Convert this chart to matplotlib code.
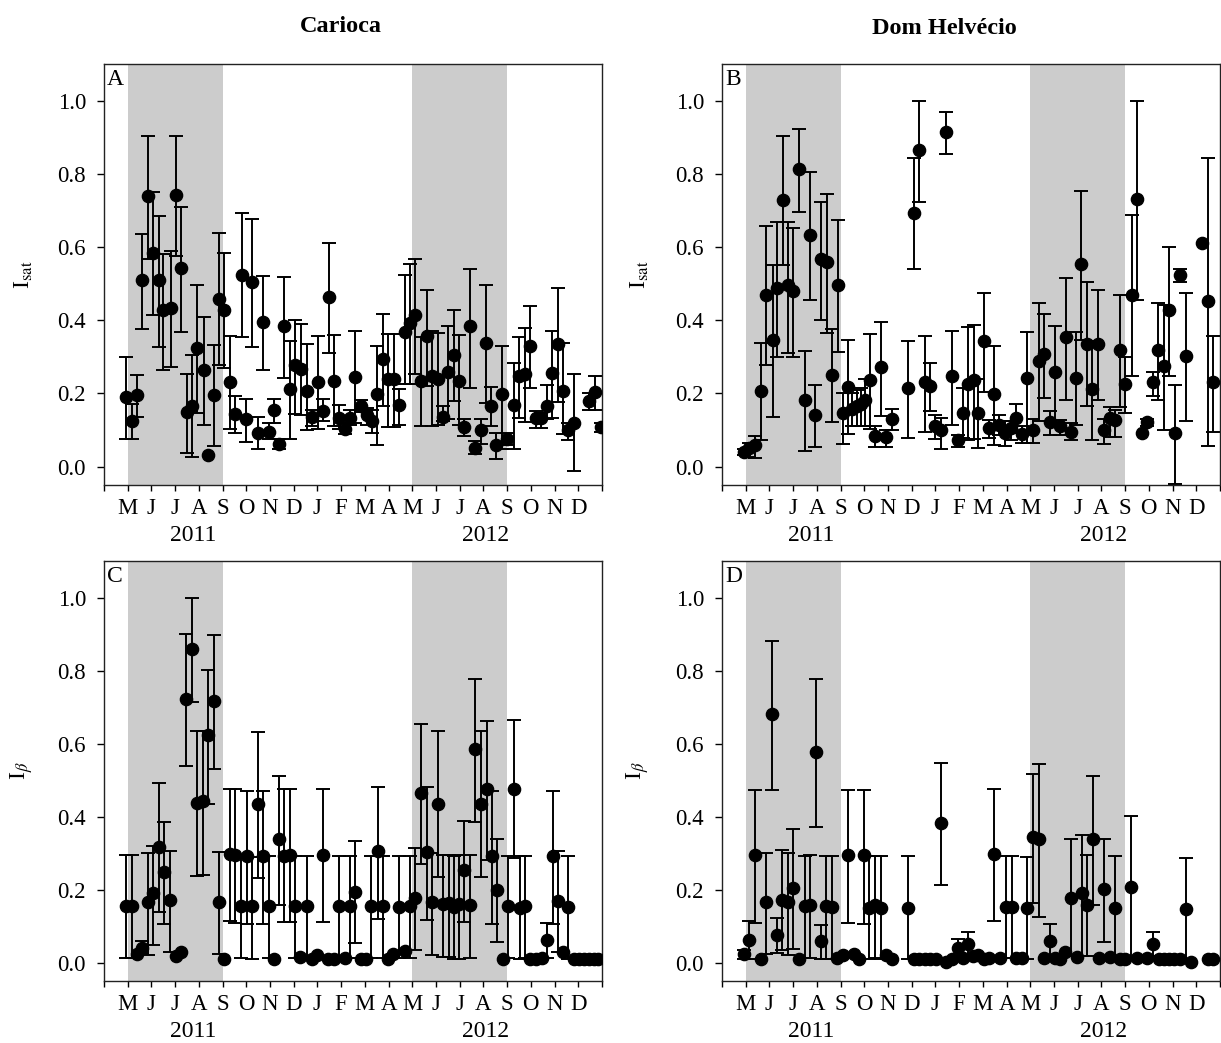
import matplotlib
matplotlib.use('Agg')
import matplotlib.pyplot as plt
import matplotlib.transforms as mtransforms
import numpy as np

plt.rcParams['font.family'] = ['Liberation Serif', 'DejaVu Serif']
plt.rcParams['mathtext.fontset'] = 'stix'

# x positions are months counted from 1 April 2011 (1 = May 2011, 13 = May 2012)
month_labels = ['M', 'J', 'J', 'A', 'S', 'O', 'N', 'D', 'J', 'F',
                'M', 'A', 'M', 'J', 'J', 'A', 'S', 'O', 'N', 'D']
years = ['2011', '2012']
year_pos = [3.75, 16.1]
dry_seasons = [(1, 5), (13, 17)]

# Panel A - Carioca, I_sat
a_x = [0.92, 1.17, 1.38, 1.62, 1.87, 2.08, 2.32, 2.50, 2.82, 3.03, 3.24, 3.49, 3.73, 3.94, 4.20,
       4.37, 4.65, 4.86, 5.07, 5.32, 5.54, 5.82, 6.00, 6.24, 6.48, 6.70, 6.94, 7.15, 7.39, 7.60,
       7.86, 8.07, 8.32, 8.54, 8.77, 9.01, 9.24, 9.48, 9.69, 9.90, 10.15, 10.39, 10.60, 10.84,
       11.07, 11.30, 11.52, 11.76, 11.97, 12.22, 12.44, 12.68, 12.90, 13.10, 13.38, 13.60, 13.84,
       14.08, 14.31, 14.52, 14.76, 14.97, 15.20, 15.43, 15.65, 15.89, 16.10, 16.33, 16.55, 16.80,
       17.00, 17.29, 17.50, 17.74, 17.97, 18.20, 18.44, 18.66, 18.90, 19.13, 19.37, 19.58, 19.80,
       20.47, 20.72, 20.96]
a_y = [0.190, 0.126, 0.197, 0.509, 0.740, 0.585, 0.509, 0.427, 0.434, 0.743, 0.543, 0.150, 0.165,
       0.325, 0.264, 0.031, 0.197, 0.459, 0.429, 0.231, 0.145, 0.524, 0.129, 0.505, 0.093, 0.395,
       0.095, 0.156, 0.061, 0.384, 0.211, 0.279, 0.268, 0.206, 0.136, 0.231, 0.152, 0.464, 0.234,
       0.132, 0.104, 0.134, 0.245, 0.167, 0.140, 0.126, 0.199, 0.295, 0.240, 0.240, 0.168, 0.367,
       0.393, 0.414, 0.234, 0.356, 0.247, 0.240, 0.135, 0.260, 0.306, 0.234, 0.109, 0.384, 0.052,
       0.100, 0.338, 0.167, 0.058, 0.199, 0.076, 0.168, 0.247, 0.253, 0.329, 0.132, 0.134, 0.167,
       0.255, 0.336, 0.208, 0.100, 0.120, 0.179, 0.204, 0.108]
a_lo = [0.076, 0.076, 0.135, 0.377, 0.568, 0.415, 0.327, 0.265, 0.273, 0.576, 0.368, 0.038, 0.026,
        0.147, 0.115, 0.031, 0.056, 0.277, 0.270, 0.102, 0.093, 0.354, 0.068, 0.327, 0.047, 0.263,
        0.075, 0.120, 0.049, 0.241, 0.075, 0.145, 0.140, 0.099, 0.111, 0.102, 0.124, 0.311, 0.111,
        0.102, 0.088, 0.113, 0.120, 0.150, 0.115, 0.091, 0.059, 0.165, 0.109, 0.109, 0.115, 0.225,
        0.225, 0.252, 0.111, 0.220, 0.111, 0.113, 0.125, 0.129, 0.179, 0.115, 0.084, 0.215, 0.034,
        0.061, 0.175, 0.111, 0.022, 0.049, 0.058, 0.047, 0.134, 0.122, 0.215, 0.105, 0.105, 0.131,
        0.134, 0.176, 0.090, 0.074, -0.012, 0.156, 0.156, 0.094]
a_hi = [0.299, 0.170, 0.250, 0.635, 0.904, 0.749, 0.685, 0.580, 0.588, 0.904, 0.710, 0.254, 0.305,
        0.495, 0.410, 0.031, 0.332, 0.638, 0.584, 0.358, 0.193, 0.693, 0.185, 0.676, 0.136, 0.522,
        0.120, 0.185, 0.075, 0.518, 0.343, 0.402, 0.390, 0.334, 0.155, 0.358, 0.185, 0.611, 0.359,
        0.168, 0.120, 0.155, 0.370, 0.182, 0.160, 0.156, 0.330, 0.418, 0.363, 0.363, 0.211, 0.525,
        0.555, 0.567, 0.355, 0.484, 0.370, 0.366, 0.165, 0.384, 0.427, 0.361, 0.129, 0.541, 0.070,
        0.129, 0.495, 0.218, 0.093, 0.330, 0.093, 0.282, 0.355, 0.378, 0.438, 0.151, 0.147, 0.222,
        0.370, 0.489, 0.338, 0.120, 0.252, 0.200, 0.247, 0.120]

# Panel B - Dom Helvecio, I_sat
b_x = [0.94, 1.14, 1.39, 1.63, 1.86, 2.13, 2.31, 2.56, 2.77, 3.01, 3.25, 3.48, 3.72, 3.93, 4.18,
       4.42, 4.63, 4.89, 5.10, 5.31, 5.50, 5.68, 5.85, 6.02, 6.23, 6.46, 6.70, 6.93, 7.17, 7.85,
       8.08, 8.32, 8.55, 8.79, 9.00, 9.25, 9.46, 9.70, 9.94, 10.17, 10.37, 10.62, 10.79, 11.04,
       11.25, 11.49, 11.70, 11.94, 12.20, 12.41, 12.65, 12.87, 13.11, 13.35, 13.58, 13.82, 14.03,
       14.27, 14.49, 14.70, 14.94, 15.15, 15.39, 15.62, 15.86, 16.11, 16.35, 16.56, 16.77, 17.01,
       17.27, 17.48, 17.69, 17.93, 18.18, 18.39, 18.63, 18.86, 19.10, 19.31, 19.55, 20.23, 20.48,
       20.72]
b_y = [0.041, 0.050, 0.058, 0.208, 0.470, 0.345, 0.489, 0.729, 0.495, 0.481, 0.813, 0.183, 0.632,
       0.140, 0.566, 0.560, 0.251, 0.495, 0.146, 0.219, 0.157, 0.165, 0.172, 0.183, 0.236, 0.084,
       0.271, 0.080, 0.131, 0.215, 0.694, 0.866, 0.230, 0.221, 0.112, 0.101, 0.915, 0.247, 0.073,
       0.148, 0.226, 0.236, 0.148, 0.342, 0.105, 0.198, 0.114, 0.093, 0.105, 0.132, 0.090, 0.242,
       0.100, 0.289, 0.308, 0.123, 0.258, 0.110, 0.353, 0.096, 0.242, 0.554, 0.336, 0.212, 0.336,
       0.100, 0.132, 0.128, 0.318, 0.226, 0.470, 0.731, 0.091, 0.121, 0.230, 0.318, 0.276, 0.427,
       0.091, 0.525, 0.303, 0.612, 0.452, 0.230]
b_lo = [0.032, 0.027, 0.023, 0.073, 0.279, 0.135, 0.301, 0.550, 0.310, 0.301, 0.697, 0.044, 0.455,
        0.053, 0.400, 0.365, 0.121, 0.312, 0.062, 0.089, 0.110, 0.110, 0.110, 0.110, 0.102, 0.055,
        0.139, 0.053, 0.100, 0.078, 0.539, 0.723, 0.096, 0.151, 0.076, 0.047, 0.854, 0.114, 0.053,
        0.078, 0.073, 0.075, 0.050, 0.205, 0.078, 0.059, 0.087, 0.056, 0.073, 0.093, 0.064, 0.064,
        0.064, 0.126, 0.187, 0.087, 0.110, 0.087, 0.181, 0.073, 0.114, 0.347, 0.166, 0.073, 0.183,
        0.062, 0.082, 0.082, 0.163, 0.148, 0.248, 0.455, 0.091, 0.110, 0.192, 0.183, 0.100, 0.247,
        -0.047, 0.504, 0.126, 0.612, 0.057, 0.096]
b_hi = [0.048, 0.064, 0.085, 0.338, 0.658, 0.550, 0.668, 0.902, 0.668, 0.653, 0.922, 0.315, 0.804,
        0.224, 0.723, 0.744, 0.376, 0.674, 0.200, 0.347, 0.200, 0.210, 0.215, 0.240, 0.363, 0.110,
        0.395, 0.100, 0.157, 0.342, 0.842, 1.000, 0.356, 0.283, 0.141, 0.132, 0.970, 0.370, 0.087,
        0.215, 0.382, 0.388, 0.240, 0.475, 0.128, 0.331, 0.140, 0.124, 0.126, 0.172, 0.111, 0.368,
        0.130, 0.446, 0.417, 0.151, 0.384, 0.128, 0.516, 0.119, 0.367, 0.753, 0.504, 0.344, 0.484,
        0.130, 0.162, 0.155, 0.468, 0.301, 0.688, 1.000, 0.091, 0.130, 0.260, 0.447, 0.443, 0.601,
        0.224, 0.541, 0.475, 0.612, 0.842, 0.358]

# Panel C - Carioca, I_beta
c_x = [0.92, 1.17, 1.38, 1.59, 1.87, 2.08, 2.32, 2.55, 2.79, 3.03, 3.24, 3.46, 3.70, 3.92, 4.17,
       4.38, 4.62, 4.86, 5.08, 5.32, 5.54, 5.77, 6.03, 6.24, 6.48, 6.70, 6.94, 7.15, 7.39, 7.58,
       7.83, 8.07, 8.28, 8.54, 8.77, 8.99, 9.24, 9.45, 9.69, 9.90, 10.15, 10.39, 10.60, 10.82,
       11.03, 11.28, 11.55, 11.76, 11.99, 12.20, 12.44, 12.68, 12.90, 13.11, 13.38, 13.60, 13.84,
       14.08, 14.31, 14.55, 14.76, 14.97, 15.20, 15.42, 15.66, 15.90, 16.13, 16.37, 16.58, 16.82,
       17.05, 17.29, 17.53, 17.76, 17.97, 18.21, 18.45, 18.68, 18.92, 19.13, 19.37, 19.58, 19.80,
       20.01, 20.23, 20.44, 20.65, 20.82]
c_y = [0.156, 0.156, 0.023, 0.041, 0.165, 0.191, 0.318, 0.248, 0.171, 0.018, 0.029, 0.723, 0.859,
       0.438, 0.444, 0.623, 0.716, 0.166, 0.011, 0.298, 0.295, 0.156, 0.291, 0.155, 0.435, 0.293,
       0.155, 0.011, 0.338, 0.293, 0.295, 0.156, 0.016, 0.156, 0.009, 0.020, 0.295, 0.009, 0.011,
       0.155, 0.012, 0.155, 0.195, 0.011, 0.011, 0.155, 0.305, 0.155, 0.011, 0.023, 0.153, 0.032,
       0.155, 0.177, 0.465, 0.302, 0.165, 0.436, 0.162, 0.164, 0.153, 0.162, 0.253, 0.159, 0.584,
       0.436, 0.475, 0.291, 0.200, 0.011, 0.156, 0.477, 0.150, 0.155, 0.011, 0.011, 0.014, 0.061,
       0.291, 0.168, 0.029, 0.152, 0.009, 0.009, 0.009, 0.011, 0.011, 0.011]
c_lo = [0.014, 0.014, 0.023, 0.023, 0.020, 0.048, 0.139, 0.106, 0.029, 0.018, 0.029, 0.539, 0.714,
        0.238, 0.240, 0.436, 0.530, 0.023, 0.011, 0.114, 0.110, 0.014, 0.105, 0.011, 0.232, 0.105,
        0.014, 0.011, 0.159, 0.111, 0.111, 0.014, 0.016, 0.014, 0.009, 0.020, 0.111, 0.009, 0.011,
        0.014, 0.012, 0.014, 0.055, 0.011, 0.011, 0.014, 0.120, 0.014, 0.011, 0.023, 0.012, 0.032,
        0.014, 0.036, 0.271, 0.118, 0.020, 0.234, 0.016, 0.016, 0.010, 0.010, 0.111, 0.014, 0.385,
        0.234, 0.282, 0.105, 0.056, 0.011, 0.014, 0.286, 0.010, 0.014, 0.011, 0.011, 0.014, 0.014,
        0.105, 0.029, 0.029, 0.010, 0.009, 0.009, 0.009, 0.011, 0.011, 0.011]
c_hi = [0.295, 0.295, 0.023, 0.059, 0.300, 0.321, 0.491, 0.386, 0.306, 0.018, 0.029, 0.900, 0.998,
        0.635, 0.635, 0.802, 0.898, 0.303, 0.011, 0.475, 0.475, 0.293, 0.471, 0.290, 0.632, 0.471,
        0.293, 0.011, 0.511, 0.475, 0.475, 0.293, 0.016, 0.293, 0.009, 0.020, 0.475, 0.009, 0.011,
        0.293, 0.012, 0.293, 0.332, 0.011, 0.011, 0.293, 0.482, 0.293, 0.011, 0.023, 0.291, 0.032,
        0.293, 0.314, 0.653, 0.482, 0.300, 0.634, 0.295, 0.295, 0.293, 0.295, 0.389, 0.295, 0.777,
        0.634, 0.662, 0.471, 0.338, 0.011, 0.293, 0.664, 0.291, 0.293, 0.011, 0.011, 0.014, 0.109,
        0.471, 0.305, 0.029, 0.291, 0.009, 0.009, 0.009, 0.011, 0.011, 0.011]

# Panel D - Dom Helvecio, I_beta
d_x = [0.94, 1.15, 1.39, 1.63, 1.86, 2.10, 2.31, 2.52, 2.77, 3.01, 3.25, 3.48, 3.72, 3.96, 4.17,
       4.39, 4.63, 4.87, 5.10, 5.31, 5.55, 5.79, 6.00, 6.21, 6.46, 6.70, 6.92, 7.17, 7.83, 8.08,
       8.32, 8.55, 8.79, 9.03, 9.24, 9.46, 9.68, 9.94, 10.15, 10.38, 10.58, 10.79, 11.04, 11.25,
       11.49, 11.73, 11.99, 12.23, 12.41, 12.65, 12.87, 13.11, 13.35, 13.56, 13.82, 14.03, 14.27,
       14.48, 14.73, 14.97, 15.18, 15.41, 15.65, 15.89, 16.11, 16.35, 16.56, 16.77, 17.01, 17.24,
       17.48, 17.93, 18.18, 18.42, 18.65, 18.86, 19.07, 19.31, 19.55, 19.77, 20.48, 20.72]
d_y = [0.023, 0.062, 0.296, 0.011, 0.166, 0.680, 0.075, 0.173, 0.166, 0.205, 0.011, 0.155, 0.159,
       0.577, 0.059, 0.155, 0.153, 0.014, 0.020, 0.296, 0.023, 0.011, 0.296, 0.150, 0.157, 0.150,
       0.020, 0.011, 0.150, 0.011, 0.011, 0.011, 0.009, 0.011, 0.383, 0.002, 0.009, 0.041, 0.014,
       0.050, 0.018, 0.020, 0.009, 0.014, 0.299, 0.014, 0.153, 0.153, 0.014, 0.014, 0.150, 0.343,
       0.339, 0.014, 0.059, 0.014, 0.009, 0.029, 0.178, 0.015, 0.191, 0.159, 0.339, 0.014, 0.202,
       0.015, 0.150, 0.009, 0.011, 0.208, 0.014, 0.014, 0.050, 0.011, 0.011, 0.011, 0.011, 0.009,
       0.148, 0.002, 0.011, 0.009]
d_lo = [0.009, 0.009, 0.109, 0.011, 0.023, 0.472, 0.027, 0.034, 0.020, 0.038, 0.011, 0.014, 0.014,
        0.373, 0.011, 0.011, 0.011, 0.014, 0.020, 0.109, 0.023, 0.011, 0.107, 0.009, 0.014, 0.009,
        0.020, 0.011, 0.009, 0.011, 0.011, 0.011, 0.009, 0.011, 0.212, 0.002, 0.009, 0.018, 0.014,
        0.018, 0.018, 0.020, 0.009, 0.014, 0.114, 0.014, 0.014, 0.014, 0.014, 0.014, 0.009, 0.164,
        0.125, 0.014, 0.011, 0.014, 0.009, 0.029, 0.018, 0.015, 0.018, 0.018, 0.159, 0.014, 0.056,
        0.015, 0.009, 0.009, 0.011, 0.014, 0.014, 0.014, 0.018, 0.011, 0.011, 0.011, 0.011, 0.009,
        0.009, 0.002, 0.011, 0.009]
d_hi = [0.036, 0.114, 0.474, 0.011, 0.300, 0.881, 0.123, 0.308, 0.300, 0.366, 0.011, 0.293, 0.296,
        0.776, 0.102, 0.293, 0.293, 0.014, 0.020, 0.474, 0.023, 0.011, 0.474, 0.291, 0.293, 0.291,
        0.020, 0.011, 0.291, 0.011, 0.011, 0.011, 0.009, 0.011, 0.548, 0.002, 0.009, 0.066, 0.014,
        0.084, 0.018, 0.020, 0.009, 0.014, 0.476, 0.014, 0.291, 0.291, 0.014, 0.014, 0.290, 0.517,
        0.545, 0.014, 0.105, 0.014, 0.009, 0.029, 0.340, 0.015, 0.351, 0.296, 0.510, 0.014, 0.340,
        0.015, 0.291, 0.009, 0.011, 0.403, 0.014, 0.014, 0.085, 0.011, 0.011, 0.011, 0.011, 0.009,
        0.287, 0.002, 0.011, 0.009]

W, H = 1221, 1043
fig = plt.figure(figsize=(W / 100, H / 100), dpi=100)

panels = [
    ('A', [104 / W, 1 - 485 / H, 498 / W, 421 / H], a_x, a_y, a_lo, a_hi, r'I$_{\rm sat}$', -0.138),
    ('B', [722 / W, 1 - 485 / H, 498 / W, 421 / H], b_x, b_y, b_lo, b_hi, r'I$_{\rm sat}$', -0.143),
    ('C', [104 / W, 1 - 981 / H, 498 / W, 420 / H], c_x, c_y, c_lo, c_hi, r'I$_{\beta}$', -0.138),
    ('D', [722 / W, 1 - 981 / H, 498 / W, 420 / H], d_x, d_y, d_lo, d_hi, r'I$_{\beta}$', -0.143),
]

for letter, rect, x, y, lo, hi, ylab, lab_x in panels:
    ax = fig.add_axes(rect)
    x = np.array(x)
    y = np.array(y)
    lo = np.array(lo)
    hi = np.array(hi)

    for start, end in dry_seasons:
        ax.axvspan(start, end, color='#cccccc', lw=0, zorder=0)

    has_bar = hi > lo
    ax.errorbar(x[has_bar], y[has_bar], yerr=[y[has_bar] - lo[has_bar], hi[has_bar] - y[has_bar]],
                fmt='none', ecolor='black', elinewidth=1.4, capsize=4.7, capthick=1.4, zorder=2)
    ax.plot(x, y, 'o', color='black', ms=8.8, zorder=3)

    ax.set_xlim(0, 21)
    ax.set_ylim(-0.05, 1.1)
    ax.set_xticks(range(0, 22))
    ax.set_xticklabels([''] + month_labels + [''])
    ax.set_yticks([0.0, 0.2, 0.4, 0.6, 0.8, 1.0])
    ax.set_yticklabels(['0.0', '0.2', '0.4', '0.6', '0.8', '1.0'])
    ax.tick_params(axis='x', direction='out', length=4, width=1, pad=5, labelsize=16.5)
    ax.tick_params(axis='y', direction='out', length=5, width=1, pad=8, labelsize=16.5)
    for s in ax.spines.values():
        s.set_linewidth(1.0)
        s.set_color('#222222')

    ax.set_ylabel(ylab, fontsize=17)
    ax.yaxis.set_label_coords(lab_x, 0.5)

    ax.text(0.006, 0.988, letter, transform=ax.transAxes, ha='left', va='top', fontsize=17)

    trans = mtransforms.blended_transform_factory(ax.transData, ax.transAxes)
    for yr, pos in zip(years, year_pos):
        ax.text(pos, -0.12, yr, transform=trans, ha='center', va='center', fontsize=17)

fig.text(341 / W, 1 - 26 / H, 'Carioca', ha='center', va='center', fontsize=17.5, fontweight='bold')
fig.text(944 / W, 1 - 28 / H, 'Dom Helvécio', ha='center', va='center', fontsize=17.5, fontweight='bold')

fig.savefig('out.png', dpi=100)
